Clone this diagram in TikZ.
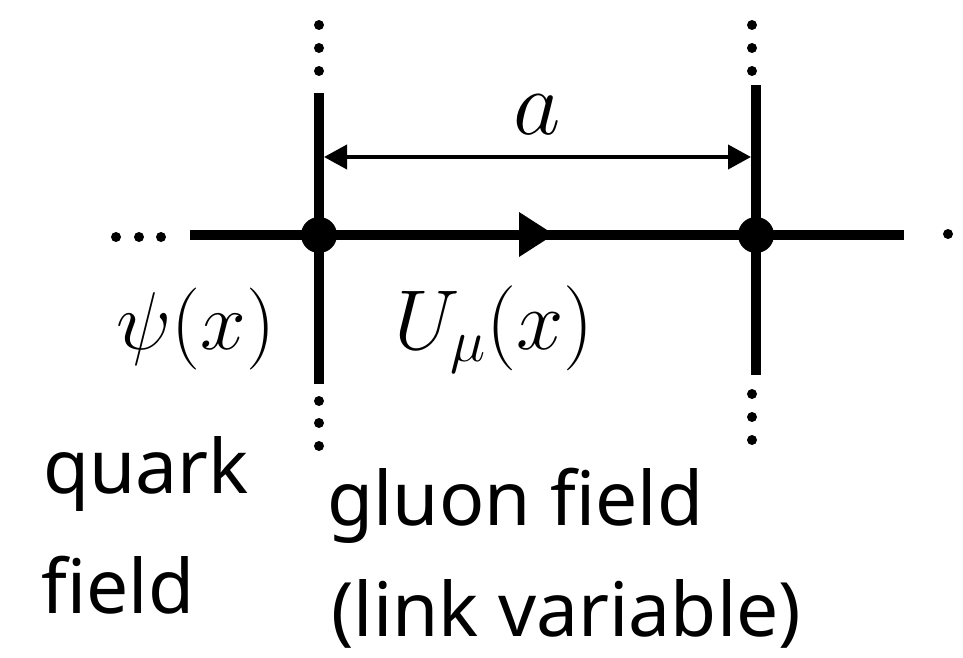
\documentclass[tikz,border=0pt]{standalone}
\usepackage{fix-cm}
\usepackage{fontspec}
\newfontfamily\labfont{Noto Sans}
\usetikzlibrary{arrows.meta}
\begin{document}
\begin{tikzpicture}[x=1pt,y=-1pt,
  lattice/.style={line width=10pt},
  site/.style={circle,fill=black,inner sep=0pt,minimum size=36pt},
  dimline/.style={line width=4pt,{Triangle[length=23pt,width=24pt]}-{Triangle[length=23pt,width=24pt]}},
  lab/.style={inner sep=0pt,anchor=base west,font=\labfont\fontsize{75}{90}\selectfont},
  mathlab/.style={inner sep=0pt,anchor=base west,font=\fontsize{82}{98}\selectfont}]
\useasboundingbox (0,0) rectangle (963,658);
% coordinates
\coordinate (hl) at (190,235);
\coordinate (hr) at (904,235);
\coordinate (lt) at (319,93);
\coordinate (lb) at (319,384);
\coordinate (rt) at (756,85);
\coordinate (rb) at (756,375);
\coordinate (dl) at (324,157);
\coordinate (dr) at (751,157);
% lines
\draw[lattice] (hl) -- (hr);
\draw[lattice] (lt) -- (lb);
\draw[lattice] (rt) -- (rb);
% sites
\node[site] (sL) at (319,235) {};
\node[site] (sR) at (756,235) {};
% direction arrow
\fill (519,212) -- (554,234.5) -- (519,257) -- cycle;
% dimension
\draw[dimline] (dl) -- (dr);
% dots
\foreach \y in {25,48,71} {\fill (319,\y) circle (5pt); \fill (752,\y) circle (5pt);}
\foreach \y in {401,423,446} {\fill (319,\y) circle (5pt);}
\foreach \y in {394,417,440} {\fill (752,\y) circle (5pt);}
\foreach \x in {116,139,161} {\fill (\x,237) circle (5pt);}
\fill (948,234) circle (5pt);
% labels
\node[mathlab,font=\fontsize{92}{110}\selectfont,anchor=base] (alab) at (537,135) {$a$};
\node[mathlab] (psi) at (116,349) {$\psi(x)$};
\node[mathlab,font=\fontsize{85}{102}\selectfont] (U) at (394,349) {$U_{\mu}(x)$};
\node[lab] (q1) at (43,493) {quark};
\node[lab] (q2) at (41,613) {field};
\node[lab] (g1) at (327,525) {gluon field};
\node[lab] (g2) at (331,636) {(link variable)};
\end{tikzpicture}
\end{document}
